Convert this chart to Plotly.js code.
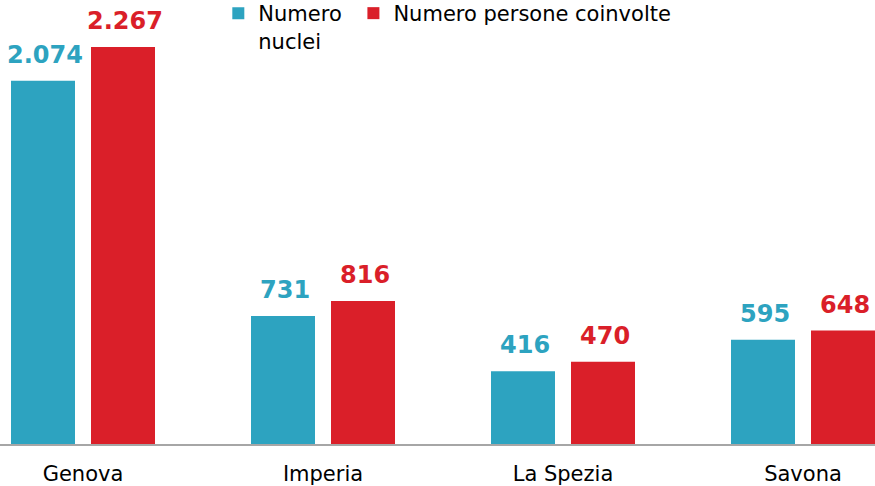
<!DOCTYPE html>
<html><head><meta charset="utf-8">
<script src="https://cdn.plot.ly/plotly-3.0.1.min.js"></script>
<style>html,body{margin:0;padding:0;background:#fff;overflow:hidden}#c{width:875px;height:493px;margin-top:-7px}</style>
</head><body><div id="c"></div>
<script>
const categories = ["Genova", "Imperia", "La Spezia", "Savona"];
const nuclei = [2074, 731, 416, 595];
const persone = [2267, 816, 470, 648];
const seriesNames = ["Numero\u00a0<br>nuclei", "Numero persone coinvolte"];
const colors = ["#2DA3C0", "#DA1F29"];
const fmt = v => v >= 1000 ? Math.floor(v/1000) + "." + String(v%1000).padStart(3,"0") : String(v);

const FONT = "DejaVu Sans";
const traces = [nuclei, persone].map((vals, i) => ({
  type: "bar", x: categories, y: vals, name: seriesNames[i],
  marker: {color: colors[i]}, hoverinfo: "none"
}));

const annotations = [];
[nuclei, persone].forEach((vals, i) => {
  vals.forEach((v, j) => {
    annotations.push({
      x: categories[j], y: v, xref: "x", yref: "y",
      text: "<b>" + fmt(v) + "</b>", showarrow: false,
      xshift: i === 0 ? -38 : 42, yanchor: "bottom", yshift: 10,
      font: {family: FONT, size: 24, color: colors[i]}
    });
  });
});

const layout = {
  width: 875, height: 493,
  margin: {l: 0, r: 0, t: 37, b: 42},
  paper_bgcolor: "#fff", plot_bgcolor: "#fff",
  barmode: "group", bargap: 1/3, bargroupgap: 0.2,
  font: {family: FONT, size: 21, color: "#000"},
  xaxis: {
    range: [-83/240, 3.3], showline: true, linecolor: "#A6A6A6", linewidth: 2,
    ticks: "", showgrid: false, zeroline: false, ticklabelstandoff: 10,
    tickfont: {family: FONT, size: 21, color: "#000"}
  },
  yaxis: {range: [0, 2364.4], visible: false, showgrid: false, zeroline: false},
  showlegend: true,
  legend: {
    orientation: "h", x: 0.2495, xanchor: "left", y: 1 + 37/414, yanchor: "top",
    valign: "top", font: {family: FONT, size: 21, color: "#000"},
    bgcolor: "rgba(0,0,0,0)", traceorder: "normal"
  },
  annotations: annotations
};
Plotly.newPlot("c", traces, layout, {staticPlot: true, displayModeBar: false});
</script></body></html>
